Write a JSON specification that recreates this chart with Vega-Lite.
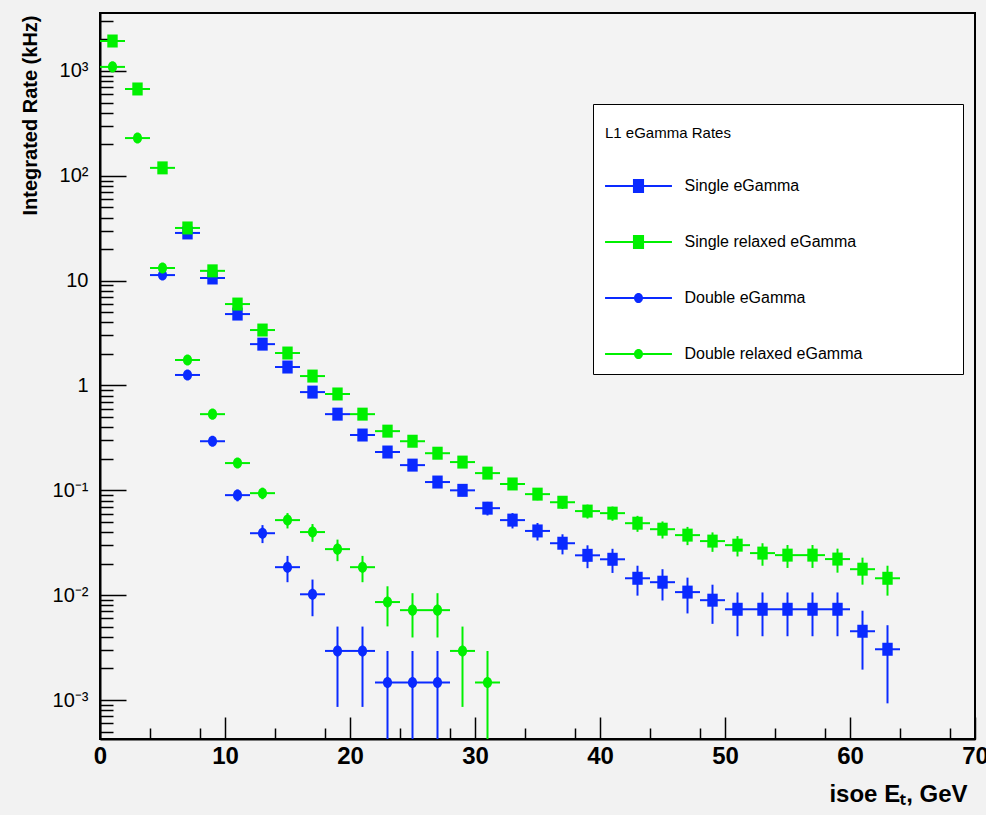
{
  "$schema": "https://vega.github.io/schema/vega-lite/v6.json",
  "width": 875,
  "height": 726,
  "autosize": {"type": "none"},
  "padding": {"left": 100, "top": 13, "right": 11, "bottom": 76},
  "background": "#f2f2f2",
  "config": {
    "view": {"stroke": "black", "strokeWidth": 2, "fill": "#f3f3f3"},
    "font": "Liberation Sans",
    "axis": {"labelOverlap": false}
  },
  "data": {
    "values": [
      {"s": "Single eGamma", "x": 7, "xlo": 6, "xhi": 8, "y": 28.5, "ylo": 28.3, "yhi": 28.7},
      {"s": "Single eGamma", "x": 9, "xlo": 8, "xhi": 10, "y": 10.6, "ylo": 10.48, "yhi": 10.72},
      {"s": "Single eGamma", "x": 11, "xlo": 10, "xhi": 12, "y": 4.8, "ylo": 4.716, "yhi": 4.884},
      {"s": "Single eGamma", "x": 13, "xlo": 12, "xhi": 14, "y": 2.48, "ylo": 2.42, "yhi": 2.54},
      {"s": "Single eGamma", "x": 15, "xlo": 14, "xhi": 16, "y": 1.5, "ylo": 1.453, "yhi": 1.547},
      {"s": "Single eGamma", "x": 17, "xlo": 16, "xhi": 18, "y": 0.865, "ylo": 0.829, "yhi": 0.901},
      {"s": "Single eGamma", "x": 19, "xlo": 18, "xhi": 20, "y": 0.533, "ylo": 0.505, "yhi": 0.561},
      {"s": "Single eGamma", "x": 21, "xlo": 20, "xhi": 22, "y": 0.337, "ylo": 0.3147, "yhi": 0.3593},
      {"s": "Single eGamma", "x": 23, "xlo": 22, "xhi": 24, "y": 0.232, "ylo": 0.2135, "yhi": 0.2505},
      {"s": "Single eGamma", "x": 25, "xlo": 24, "xhi": 26, "y": 0.174, "ylo": 0.158, "yhi": 0.19},
      {"s": "Single eGamma", "x": 27, "xlo": 26, "xhi": 28, "y": 0.12, "ylo": 0.1067, "yhi": 0.1333},
      {"s": "Single eGamma", "x": 29, "xlo": 28, "xhi": 30, "y": 0.1, "ylo": 0.0879, "yhi": 0.1121},
      {"s": "Single eGamma", "x": 31, "xlo": 30, "xhi": 32, "y": 0.0676, "ylo": 0.0576, "yhi": 0.0776},
      {"s": "Single eGamma", "x": 33, "xlo": 32, "xhi": 34, "y": 0.052, "ylo": 0.0433, "yhi": 0.0607},
      {"s": "Single eGamma", "x": 35, "xlo": 34, "xhi": 36, "y": 0.041, "ylo": 0.0332, "yhi": 0.0488},
      {"s": "Single eGamma", "x": 37, "xlo": 36, "xhi": 38, "y": 0.0313, "ylo": 0.0245, "yhi": 0.0381},
      {"s": "Single eGamma", "x": 39, "xlo": 38, "xhi": 40, "y": 0.024, "ylo": 0.0181, "yhi": 0.0299},
      {"s": "Single eGamma", "x": 41, "xlo": 40, "xhi": 42, "y": 0.022, "ylo": 0.0163, "yhi": 0.0277},
      {"s": "Single eGamma", "x": 43, "xlo": 42, "xhi": 44, "y": 0.0145, "ylo": 0.0099, "yhi": 0.0191},
      {"s": "Single eGamma", "x": 45, "xlo": 44, "xhi": 46, "y": 0.0133, "ylo": 0.0089, "yhi": 0.0177},
      {"s": "Single eGamma", "x": 47, "xlo": 46, "xhi": 48, "y": 0.0107, "ylo": 0.0067, "yhi": 0.0147},
      {"s": "Single eGamma", "x": 49, "xlo": 48, "xhi": 50, "y": 0.00896, "ylo": 0.00533, "yhi": 0.01259},
      {"s": "Single eGamma", "x": 51, "xlo": 50, "xhi": 52, "y": 0.00734, "ylo": 0.00406, "yhi": 0.01062},
      {"s": "Single eGamma", "x": 53, "xlo": 52, "xhi": 54, "y": 0.00734, "ylo": 0.00406, "yhi": 0.01062},
      {"s": "Single eGamma", "x": 55, "xlo": 54, "xhi": 56, "y": 0.00734, "ylo": 0.00406, "yhi": 0.01062},
      {"s": "Single eGamma", "x": 57, "xlo": 56, "xhi": 58, "y": 0.00734, "ylo": 0.00406, "yhi": 0.01062},
      {"s": "Single eGamma", "x": 59, "xlo": 58, "xhi": 60, "y": 0.00734, "ylo": 0.00406, "yhi": 0.01062},
      {"s": "Single eGamma", "x": 61, "xlo": 60, "xhi": 62, "y": 0.00453, "ylo": 0.00195, "yhi": 0.00711},
      {"s": "Single eGamma", "x": 63, "xlo": 62, "xhi": 64, "y": 0.00305, "ylo": 0.00093, "yhi": 0.00517},

      {"s": "Single relaxed eGamma", "x": 1, "xlo": 0, "xhi": 2, "y": 1930, "ylo": 1928, "yhi": 1932},
      {"s": "Single relaxed eGamma", "x": 3, "xlo": 2, "xhi": 4, "y": 673, "ylo": 672, "yhi": 674},
      {"s": "Single relaxed eGamma", "x": 5, "xlo": 4, "xhi": 6, "y": 119, "ylo": 118.6, "yhi": 119.4},
      {"s": "Single relaxed eGamma", "x": 7, "xlo": 6, "xhi": 8, "y": 31.8, "ylo": 31.58, "yhi": 32.02},
      {"s": "Single relaxed eGamma", "x": 9, "xlo": 8, "xhi": 10, "y": 12.4, "ylo": 12.27, "yhi": 12.53},
      {"s": "Single relaxed eGamma", "x": 11, "xlo": 10, "xhi": 12, "y": 5.98, "ylo": 5.886, "yhi": 6.074},
      {"s": "Single relaxed eGamma", "x": 13, "xlo": 12, "xhi": 14, "y": 3.38, "ylo": 3.31, "yhi": 3.45},
      {"s": "Single relaxed eGamma", "x": 15, "xlo": 14, "xhi": 16, "y": 2.04, "ylo": 1.985, "yhi": 2.095},
      {"s": "Single relaxed eGamma", "x": 17, "xlo": 16, "xhi": 18, "y": 1.23, "ylo": 1.1875, "yhi": 1.2725},
      {"s": "Single relaxed eGamma", "x": 19, "xlo": 18, "xhi": 20, "y": 0.83, "ylo": 0.795, "yhi": 0.865},
      {"s": "Single relaxed eGamma", "x": 21, "xlo": 20, "xhi": 22, "y": 0.533, "ylo": 0.505, "yhi": 0.561},
      {"s": "Single relaxed eGamma", "x": 23, "xlo": 22, "xhi": 24, "y": 0.367, "ylo": 0.3438, "yhi": 0.3902},
      {"s": "Single relaxed eGamma", "x": 25, "xlo": 24, "xhi": 26, "y": 0.294, "ylo": 0.2732, "yhi": 0.3148},
      {"s": "Single relaxed eGamma", "x": 27, "xlo": 26, "xhi": 28, "y": 0.226, "ylo": 0.2078, "yhi": 0.2442},
      {"s": "Single relaxed eGamma", "x": 29, "xlo": 28, "xhi": 30, "y": 0.186, "ylo": 0.1695, "yhi": 0.2025},
      {"s": "Single relaxed eGamma", "x": 31, "xlo": 30, "xhi": 32, "y": 0.146, "ylo": 0.1314, "yhi": 0.1606},
      {"s": "Single relaxed eGamma", "x": 33, "xlo": 32, "xhi": 34, "y": 0.115, "ylo": 0.102, "yhi": 0.128},
      {"s": "Single relaxed eGamma", "x": 35, "xlo": 34, "xhi": 36, "y": 0.092, "ylo": 0.0804, "yhi": 0.1036},
      {"s": "Single relaxed eGamma", "x": 37, "xlo": 36, "xhi": 38, "y": 0.077, "ylo": 0.0664, "yhi": 0.0876},
      {"s": "Single relaxed eGamma", "x": 39, "xlo": 38, "xhi": 40, "y": 0.0634, "ylo": 0.0538, "yhi": 0.0731},
      {"s": "Single relaxed eGamma", "x": 41, "xlo": 40, "xhi": 42, "y": 0.0606, "ylo": 0.0512, "yhi": 0.07},
      {"s": "Single relaxed eGamma", "x": 43, "xlo": 42, "xhi": 44, "y": 0.0486, "ylo": 0.0402, "yhi": 0.0571},
      {"s": "Single relaxed eGamma", "x": 45, "xlo": 44, "xhi": 46, "y": 0.0426, "ylo": 0.0347, "yhi": 0.0505},
      {"s": "Single relaxed eGamma", "x": 47, "xlo": 46, "xhi": 48, "y": 0.0374, "ylo": 0.03, "yhi": 0.0448},
      {"s": "Single relaxed eGamma", "x": 49, "xlo": 48, "xhi": 50, "y": 0.0328, "ylo": 0.0259, "yhi": 0.0397},
      {"s": "Single relaxed eGamma", "x": 51, "xlo": 50, "xhi": 52, "y": 0.03, "ylo": 0.0234, "yhi": 0.0366},
      {"s": "Single relaxed eGamma", "x": 53, "xlo": 52, "xhi": 54, "y": 0.0252, "ylo": 0.0191, "yhi": 0.0313},
      {"s": "Single relaxed eGamma", "x": 55, "xlo": 54, "xhi": 56, "y": 0.0241, "ylo": 0.0182, "yhi": 0.0301},
      {"s": "Single relaxed eGamma", "x": 57, "xlo": 56, "xhi": 58, "y": 0.0241, "ylo": 0.0182, "yhi": 0.0301},
      {"s": "Single relaxed eGamma", "x": 59, "xlo": 58, "xhi": 60, "y": 0.0221, "ylo": 0.0164, "yhi": 0.0278},
      {"s": "Single relaxed eGamma", "x": 61, "xlo": 60, "xhi": 62, "y": 0.0177, "ylo": 0.0126, "yhi": 0.0228},
      {"s": "Single relaxed eGamma", "x": 63, "xlo": 62, "xhi": 64, "y": 0.0145, "ylo": 0.0099, "yhi": 0.0191},

      {"s": "Double eGamma", "x": 5, "xlo": 4, "xhi": 6, "y": 11.3, "ylo": 11.17, "yhi": 11.43},
      {"s": "Double eGamma", "x": 7, "xlo": 6, "xhi": 8, "y": 1.26, "ylo": 1.217, "yhi": 1.303},
      {"s": "Double eGamma", "x": 9, "xlo": 8, "xhi": 10, "y": 0.294, "ylo": 0.2732, "yhi": 0.3148},
      {"s": "Double eGamma", "x": 11, "xlo": 10, "xhi": 12, "y": 0.09, "ylo": 0.0785, "yhi": 0.1015},
      {"s": "Double eGamma", "x": 13, "xlo": 12, "xhi": 14, "y": 0.039, "ylo": 0.0314, "yhi": 0.0466},
      {"s": "Double eGamma", "x": 15, "xlo": 14, "xhi": 16, "y": 0.0185, "ylo": 0.0133, "yhi": 0.0237},
      {"s": "Double eGamma", "x": 17, "xlo": 16, "xhi": 18, "y": 0.0102, "ylo": 0.0063, "yhi": 0.0141},
      {"s": "Double eGamma", "x": 19, "xlo": 18, "xhi": 20, "y": 0.00294, "ylo": 0.00086, "yhi": 0.00502},
      {"s": "Double eGamma", "x": 21, "xlo": 20, "xhi": 22, "y": 0.00294, "ylo": 0.00086, "yhi": 0.00502},
      {"s": "Double eGamma", "x": 23, "xlo": 22, "xhi": 24, "y": 0.00147, "ylo": 0.000001, "yhi": 0.00294},
      {"s": "Double eGamma", "x": 25, "xlo": 24, "xhi": 26, "y": 0.00147, "ylo": 0.000001, "yhi": 0.00294},
      {"s": "Double eGamma", "x": 27, "xlo": 26, "xhi": 28, "y": 0.00147, "ylo": 0.000001, "yhi": 0.00294},

      {"s": "Double relaxed eGamma", "x": 1, "xlo": 0, "xhi": 2, "y": 1093, "ylo": 1091.7, "yhi": 1094.3},
      {"s": "Double relaxed eGamma", "x": 3, "xlo": 2, "xhi": 4, "y": 229, "ylo": 228.4, "yhi": 229.6},
      {"s": "Double relaxed eGamma", "x": 5, "xlo": 4, "xhi": 6, "y": 13.2, "ylo": 13.06, "yhi": 13.34},
      {"s": "Double relaxed eGamma", "x": 7, "xlo": 6, "xhi": 8, "y": 1.75, "ylo": 1.699, "yhi": 1.801},
      {"s": "Double relaxed eGamma", "x": 9, "xlo": 8, "xhi": 10, "y": 0.533, "ylo": 0.505, "yhi": 0.561},
      {"s": "Double relaxed eGamma", "x": 11, "xlo": 10, "xhi": 12, "y": 0.182, "ylo": 0.1656, "yhi": 0.1984},
      {"s": "Double relaxed eGamma", "x": 13, "xlo": 12, "xhi": 14, "y": 0.094, "ylo": 0.0823, "yhi": 0.1058},
      {"s": "Double relaxed eGamma", "x": 15, "xlo": 14, "xhi": 16, "y": 0.052, "ylo": 0.0433, "yhi": 0.0607},
      {"s": "Double relaxed eGamma", "x": 17, "xlo": 16, "xhi": 18, "y": 0.04, "ylo": 0.0323, "yhi": 0.0477},
      {"s": "Double relaxed eGamma", "x": 19, "xlo": 18, "xhi": 20, "y": 0.0275, "ylo": 0.0211, "yhi": 0.0339},
      {"s": "Double relaxed eGamma", "x": 21, "xlo": 20, "xhi": 22, "y": 0.0185, "ylo": 0.0133, "yhi": 0.0237},
      {"s": "Double relaxed eGamma", "x": 23, "xlo": 22, "xhi": 24, "y": 0.0086, "ylo": 0.00504, "yhi": 0.01216},
      {"s": "Double relaxed eGamma", "x": 25, "xlo": 24, "xhi": 26, "y": 0.0072, "ylo": 0.00395, "yhi": 0.01045},
      {"s": "Double relaxed eGamma", "x": 27, "xlo": 26, "xhi": 28, "y": 0.0072, "ylo": 0.00395, "yhi": 0.01045},
      {"s": "Double relaxed eGamma", "x": 29, "xlo": 28, "xhi": 30, "y": 0.00294, "ylo": 0.00086, "yhi": 0.00502},
      {"s": "Double relaxed eGamma", "x": 31, "xlo": 30, "xhi": 32, "y": 0.00147, "ylo": 0.000001, "yhi": 0.00294}
    ]
  },
  "encoding": {
    "color": {
      "field": "s",
      "type": "nominal",
      "scale": {
        "domain": ["Single eGamma", "Single relaxed eGamma", "Double eGamma", "Double relaxed eGamma"],
        "range": ["#0a2aff", "#00f000", "#0a2aff", "#00f000"]
      },
      "legend": {
        "orient": "none",
        "legendX": 493,
        "legendY": 91,
        "title": ["", "L1 eGamma Rates"],
        "titleFont": "Liberation Sans",
        "titleFontSize": 15,
        "titleFontWeight": "normal",
        "titleColor": "black",
        "titleLineHeight": 10,
        "titlePadding": 30,
        "labelFont": "Liberation Sans",
        "labelFontSize": 16,
        "labelColor": "black",
        "labelOffset": 31,
        "labelLimit": 500,
        "labelExpr": "datum.label + ' ⠀⠀⠀⠀⠀⠀⠀'",
        "symbolSize": 900,
        "symbolOffset": 18.5,
        "symbolStrokeWidth": 0,
        "symbolOpacity": 1,
        "rowPadding": 33,
        "padding": 12,
        "fillColor": "white",
        "strokeColor": "black"
      }
    }
  },
  "layer": [
    {
      "mark": {"type": "rule", "strokeWidth": 2, "clip": true},
      "encoding": {
        "x": {"field": "xlo", "type": "quantitative", "scale": {"domain": [0, 70], "nice": false, "zero": false},
          "axis": {
            "values": [0,2,4,6,8,9.999,10,12,14,16,18,19.999,20,22,24,26,28,29.999,30,32,34,36,38,39.999,40,42,44,46,48,49.999,50,52,54,56,58,59.999,60,62,64,66,68,69.999,70],
            "tickSize": {"condition": {"test": "datum.value % 10 === 0", "value": -22}, "value": -11},
            "tickColor": "black",
            "tickWidth": 1.5,
            "domainColor": "black",
            "domainWidth": 2,
            "grid": false,
            "labelExpr": "datum.value % 10 === 0 ? datum.label : ''",
            "labelFont": "Liberation Sans",
            "labelFontSize": 24,
            "labelFontWeight": "bold",
            "labelColor": "black",
            "labelPadding": 27,
            "labelFlush": false,
            "labelOverlap": false,
            "labelBound": false,
            "title": "isoe Eₜ, GeV",
            "titleFont": "Liberation Sans",
            "titleFontSize": 24,
            "titleFontWeight": "bold",
            "titleColor": "black",
            "titleAlign": "right",
            "titleAnchor": null,
            "titleBaseline": "alphabetic",
            "titleX": 867,
            "titleY": 62
          }
        },
        "x2": {"field": "xhi"},
        "y": {"field": "y", "type": "quantitative", "scale": {"type": "log", "domain": [0.000425, 3570], "nice": false},
          "axis": {
            "values": [0.0005,0.0006,0.0007,0.0008,0.0009,0.001,0.002,0.003,0.004,0.005,0.006,0.007,0.008,0.009,0.01,0.02,0.03,0.04,0.05,0.06,0.07,0.08,0.09,0.1,0.2,0.3,0.4,0.5,0.6,0.7,0.8,0.9,1,2,3,4,5,6,7,8,9,10,20,30,40,50,60,70,80,90,100,200,300,400,500,600,700,800,900,1000,2000,3000],
            "tickSize": {"condition": {"test": "indexof([0.001,0.01,0.1,1,10,100,1000], datum.value) >= 0", "value": -26}, "value": -13},
            "tickColor": "black",
            "tickWidth": 1.5,
            "domainColor": "black",
            "domainWidth": 2,
            "grid": false,
            "labelExpr": "datum.value === 1000 ? '10³' : datum.value === 100 ? '10²' : datum.value === 10 ? '10' : datum.value === 1 ? '1' : datum.value === 0.1 ? '10⁻¹' : datum.value === 0.01 ? '10⁻²' : datum.value === 0.001 ? '10⁻³' : ''",
            "labelFont": "Liberation Sans",
            "labelFontSize": 20,
            "labelColor": "black",
            "labelPadding": 38,
            "labelFlush": false,
            "labelOverlap": false,
            "labelBound": false,
            "title": "Integrated Rate (kHz)",
            "titleFont": "Liberation Sans",
            "titleFontSize": 20,
            "titleFontWeight": "bold",
            "titleColor": "black",
            "titleAngle": -90,
            "titleAlign": "right",
            "titleAnchor": null,
            "titleBaseline": "middle",
            "titleX": -70,
            "titleY": 2
          }
        }
      }
    },
    {
      "mark": {"type": "rule", "strokeWidth": 2, "clip": true},
      "encoding": {
        "x": {"field": "x", "type": "quantitative"},
        "y": {"field": "ylo", "type": "quantitative"},
        "y2": {"field": "yhi"}
      }
    },
    {
      "transform": [{"filter": "indexof(datum.s, 'Single') === 0"}],
      "mark": {"type": "point", "filled": true, "opacity": 1, "size": 169, "clip": true, "shape": "M-0.8,-1H0.8V1H-0.8Z"},
      "encoding": {
        "x": {"field": "x", "type": "quantitative"},
        "y": {"field": "y", "type": "quantitative"}
      }
    },
    {
      "transform": [{"filter": "indexof(datum.s, 'Double') === 0"}],
      "mark": {"type": "point", "filled": true, "opacity": 1, "size": 169, "clip": true, "shape": "M0.7,0A0.7,0.85 0 1,1 -0.7,0A0.7,0.85 0 1,1 0.7,0Z"},
      "encoding": {
        "x": {"field": "x", "type": "quantitative"},
        "y": {"field": "y", "type": "quantitative"}
      }
    },
    {
      "mark": {"type": "point", "filled": true, "opacity": 0, "size": 10, "clip": true},
      "encoding": {
        "x": {"field": "x", "type": "quantitative"},
        "y": {"field": "y", "type": "quantitative"},
        "shape": {
          "field": "s",
          "type": "nominal",
          "scale": {
            "domain": ["Single eGamma", "Single relaxed eGamma", "Double eGamma", "Double relaxed eGamma"],
            "range": [
              "M-2.23,-0.07H2.23V0.07H-2.23Z M-0.37,-0.47H0.37V0.47H-0.37Z",
              "M-2.23,-0.07H2.23V0.07H-2.23Z M-0.37,-0.47H0.37V0.47H-0.37Z",
              "M-2.23,-0.07H2.23V0.07H-2.23Z M0.3,0A0.3,0.34 0 1,1 -0.3,0A0.3,0.34 0 1,1 0.3,0Z",
              "M-2.23,-0.07H2.23V0.07H-2.23Z M0.3,0A0.3,0.34 0 1,1 -0.3,0A0.3,0.34 0 1,1 0.3,0Z"
            ]
          },
          "legend": null
        }
      }
    }
  ]
}
